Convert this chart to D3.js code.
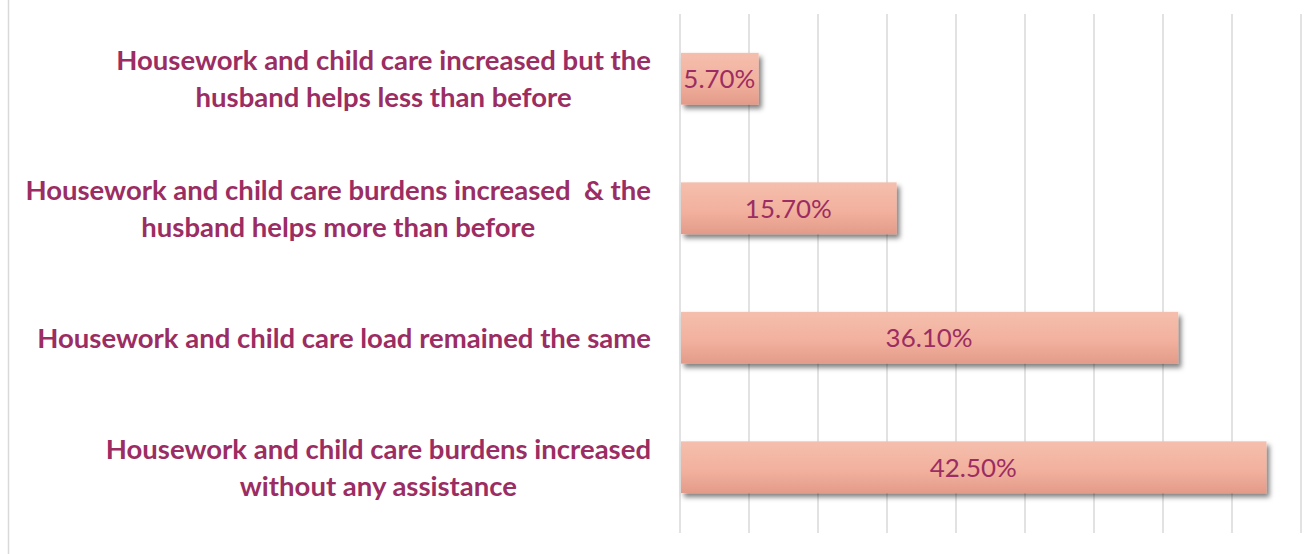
<!DOCTYPE html>
<html><head><meta charset="utf-8">
<script src="https://cdn.jsdelivr.net/npm/d3@7"></script>
<style>html,body{margin:0;padding:0;background:#fff;}svg{display:block;}text{white-space:pre;}</style>
</head><body>
<svg id="chart" width="1315" height="554"></svg>
<script>
const categories = [
  ["Housework and child care increased but the", "husband helps less than before"],
  ["Housework and child care burdens increased  & the", "husband helps more than before"],
  ["Housework and child care load remained the same"],
  ["Housework and child care burdens increased", "without any assistance"]
];
const values = [5.7, 15.7, 36.1, 42.5];
const valueLabels = ["5.70%", "15.70%", "36.10%", "42.50%"];
const xTicks = [0, 5, 10, 15, 20, 25, 30, 35, 40, 45];

const svg = d3.select("#chart");
const W = 1315, H = 554;
const textColor = "#9B2D62";

// border
svg.append("rect").attr("x", 8.5).attr("y", -2).attr("width", W + 2).attr("height", H + 4)
  .attr("fill", "none").attr("stroke", "#D9D9D9").attr("stroke-width", 1.5);

const defs = svg.append("defs");
const grad = defs.append("linearGradient").attr("id", "barGrad").attr("x1", 0).attr("y1", 0).attr("x2", 0).attr("y2", 1);
grad.append("stop").attr("offset", "0%").attr("stop-color", "#F5BFAD");
grad.append("stop").attr("offset", "55%").attr("stop-color", "#F2B19E");
grad.append("stop").attr("offset", "100%").attr("stop-color", "#E39B89");
const f = defs.append("filter").attr("id", "shadow").attr("x", "-10%").attr("y", "-30%").attr("width", "130%").attr("height", "180%");
f.append("feDropShadow").attr("dx", 3).attr("dy", 4).attr("stdDeviation", 2.5)
  .attr("flood-color", "#000").attr("flood-opacity", 0.5);

const x = d3.scaleLinear().domain([0, 45]).range([680, 1301]);
const y = d3.scaleBand().domain(d3.range(categories.length)).range([14, 532]).paddingInner(0.6).paddingOuter(0.3);

// gridlines
svg.append("g").selectAll("line").data(xTicks).join("line")
  .attr("x1", d => x(d)).attr("x2", d => x(d))
  .attr("y1", 14).attr("y2", 533)
  .attr("stroke", "#D9D9D9").attr("stroke-width", 1.5);

// bars
svg.append("g").selectAll("rect").data(values).join("rect")
  .attr("x", x(0) + 1).attr("y", (d, i) => y(i))
  .attr("width", d => x(d) - x(0) - 1).attr("height", y.bandwidth())
  .attr("fill", "url(#barGrad)").attr("filter", "url(#shadow)");

// value labels
const vl = svg.append("g").selectAll("text").data(values).join("text")
  .attr("x", (d, i) => (x(0) + x(d)) / 2)
  .attr("y", (d, i) => y(i) + y.bandwidth() / 2)
  .attr("dy", "0.36em")
  .attr("text-anchor", "middle")
  .attr("font-family", "Lato, 'Open Sans', sans-serif")
  .attr("font-size", 22)
  .attr("fill", textColor)
  .text((d, i) => valueLabels[i]);
const refW = vl.nodes()[1].getComputedTextLength();
const vSize = 22 * 87 / refW;
vl.attr("font-size", vSize);

// category labels
const labelRight = 651;
const lineH = 37;
const lg = svg.append("g");
const labelGroups = lg.selectAll("g").data(categories).join("g");
labelGroups.each(function(lines, i) {
  const g = d3.select(this);
  const cy = y(i) + y.bandwidth() / 2;
  lines.forEach((ln, j) => {
    g.append("text")
      .attr("y", cy + (j - (lines.length - 1) / 2) * lineH)
      .attr("dy", "0.36em")
      .attr("text-anchor", "middle")
      .attr("xml:space", "preserve")
      .attr("font-family", "Lato, 'Open Sans', sans-serif")
      .attr("font-weight", "bold")
      .attr("font-size", 22)
      .attr("fill", textColor)
      .text(ln);
  });
});
const ref = lg.selectAll("g").nodes()[2].querySelector("text");
const lSize = 22 * 614 / ref.getComputedTextLength();
lg.selectAll("text").attr("font-size", lSize);
labelGroups.each(function() {
  const texts = d3.select(this).selectAll("text");
  const maxW = d3.max(texts.nodes(), n => n.getComputedTextLength());
  texts.attr("x", labelRight - maxW / 2);
});
</script>
</body></html>
